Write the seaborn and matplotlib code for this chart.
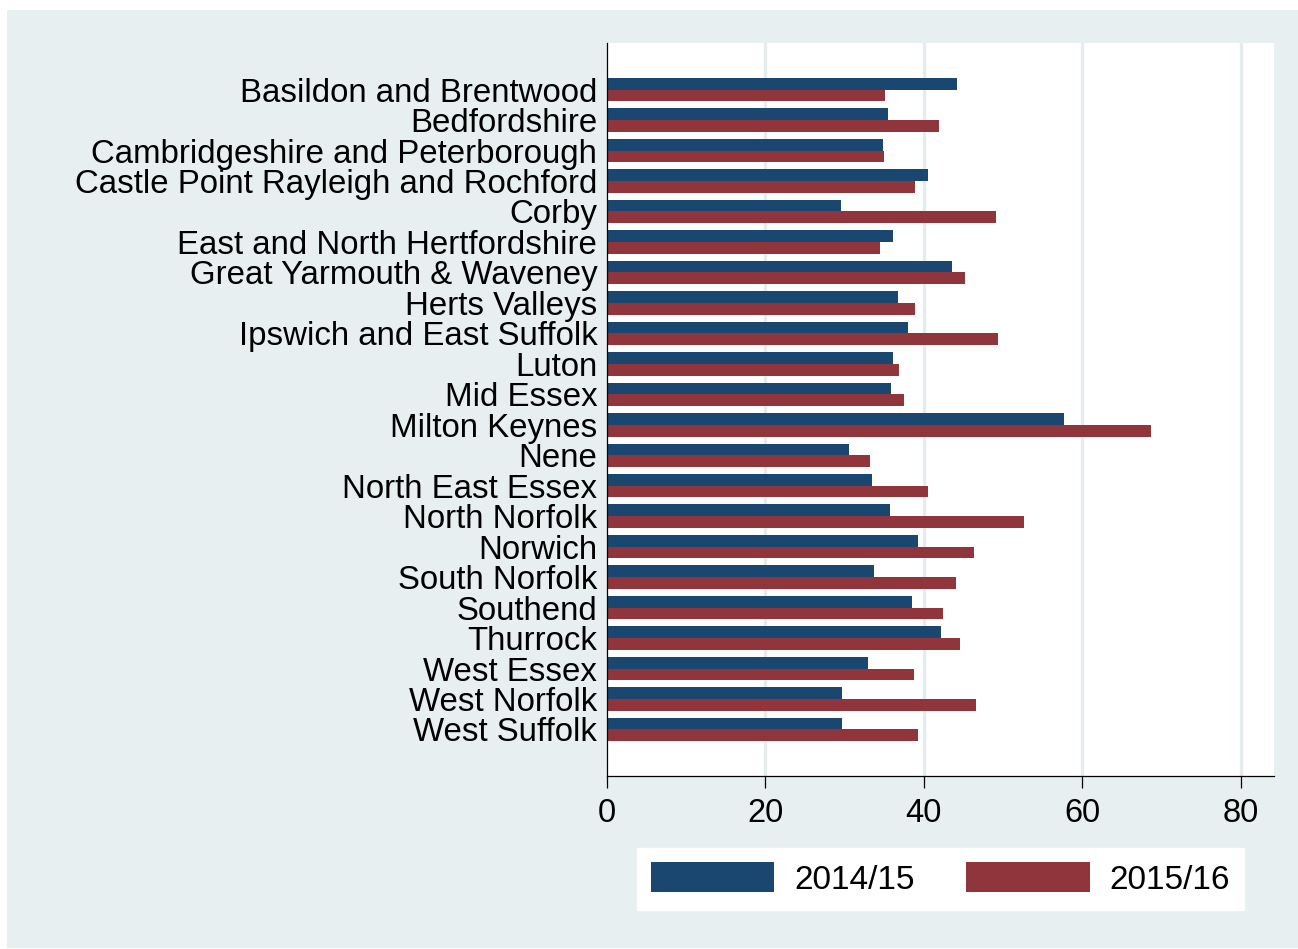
import numpy as np
import pandas as pd
import matplotlib
matplotlib.use("Agg")
from matplotlib import pyplot as plt
from matplotlib.patches import Rectangle
import seaborn as sns

areas = ["Basildon and Brentwood", "Bedfordshire", "Cambridgeshire and Peterborough",
         "Castle Point Rayleigh and Rochford", "Corby", "East and North Hertfordshire",
         "Great Yarmouth & Waveney", "Herts Valleys", "Ipswich and East Suffolk", "Luton",
         "Mid Essex", "Milton Keynes", "Nene", "North East Essex", "North Norfolk", "Norwich",
         "South Norfolk", "Southend", "Thurrock", "West Essex", "West Norfolk", "West Suffolk"]
vals_1415 = [44.2, 35.5, 34.9, 40.5, 29.5, 36.1, 43.6, 36.7, 38.0, 36.1, 35.9, 57.7,
             30.5, 33.5, 35.7, 39.3, 33.7, 38.5, 42.1, 33.0, 29.7, 29.7]
vals_1516 = [35.1, 41.9, 35.0, 38.9, 49.1, 34.5, 45.2, 38.9, 49.4, 36.9, 37.5, 68.7,
             33.2, 40.5, 52.6, 46.3, 44.0, 42.4, 44.6, 38.7, 46.6, 39.3]
periods = ["2014/15", "2015/16"]
xticks = [0, 20, 40, 60, 80]

df = pd.DataFrame({"area": areas * 2,
                   "value": vals_1415 + vals_1516,
                   "period": [periods[0]] * len(areas) + [periods[1]] * len(areas)})

sns.set_style("white")
plt.rcParams['font.family'] = ['Liberation Sans', 'DejaVu Sans']
plt.rcParams['text.color'] = 'black'
plt.rcParams['xtick.color'] = 'black'
plt.rcParams['ytick.color'] = 'black'

bg = "#e8eff1"
W, H = 1298, 949
fig = plt.figure(figsize=(W / 100, H / 100), dpi=100, facecolor="white")
fig.patches.append(Rectangle((7 / W, 1 / H), 1 - 7 / W, 1 - 11 / H, transform=fig.transFigure,
                             facecolor=bg, edgecolor="none", zorder=-5))

ax = fig.add_axes([607 / W, 1 - 775.5 / H, (1274 - 607) / W, (775.5 - 43) / H])
ax.set_facecolor("white")
ax.set_zorder(2)

sns.barplot(data=df, y="area", x="value", hue="period", orient="h",
            palette=["#1a476f", "#90353b"], width=0.77, saturation=1,
            linewidth=0, ax=ax, legend=False)

ax.set_xlim(0, 84.2)
ax.set_ylim(21 + 1.51, -1.53)
ax.set_xticks(xticks)
for v in xticks[1:]:
    ax.axvline(v, color="#e4ecee", lw=2.4, zorder=0)
ax.set_axisbelow(True)

ax.set(xlabel="", ylabel="")
sns.despine(ax=ax, top=True, right=True)
ax.spines["left"].set_color("black")
ax.spines["bottom"].set_color("black")
ax.spines["left"].set_linewidth(0.9)
ax.spines["bottom"].set_linewidth(0.9)
ax.tick_params(axis="y", length=0, pad=7, labelsize=23.8, labelcolor="black")
ax.tick_params(axis="x", length=8.5, width=0.9, pad=8, labelsize=23.5, direction="out",
               bottom=True, labelcolor="black")

handles = [Rectangle((0, 0), 1, 1, facecolor=c, edgecolor="none") for c in ["#1a476f", "#90353b"]]
leg = fig.legend(handles, periods, loc="center", bbox_to_anchor=(940.5 / W, 1 - 879 / H), ncol=2,
                 fontsize=24, frameon=True, fancybox=False, framealpha=1, edgecolor="white",
                 facecolor="white", handlelength=3.7, handleheight=1.0, handletextpad=0.6,
                 columnspacing=1.55, borderpad=0.42)
for t in leg.get_texts():
    t.set_color("black")

fig.savefig("out.png", dpi=100, facecolor="white")
